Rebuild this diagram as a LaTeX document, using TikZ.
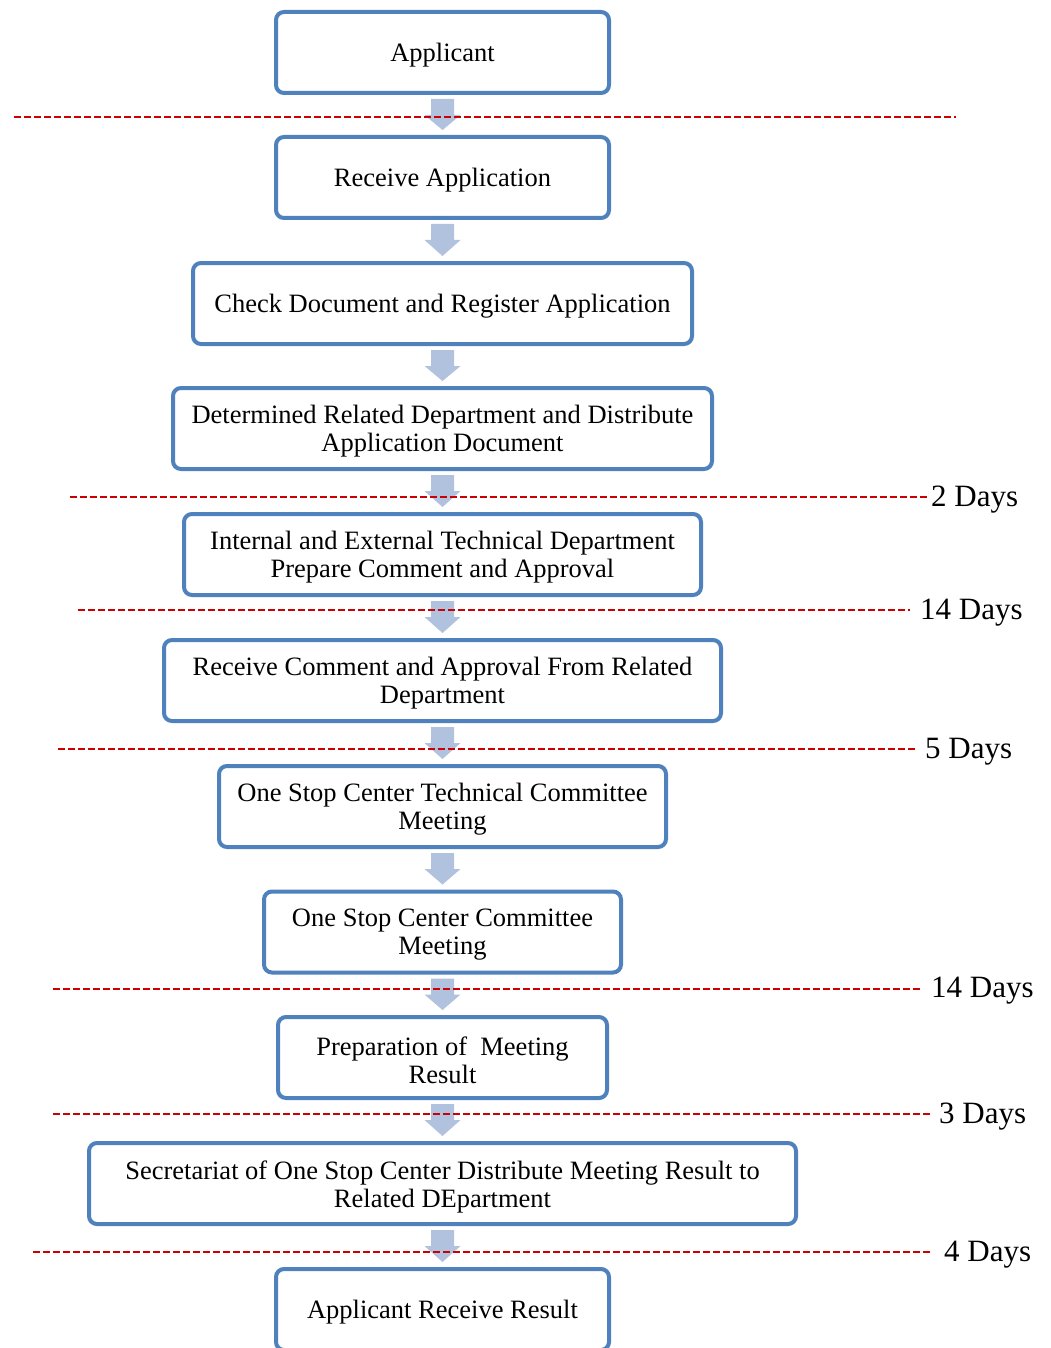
\documentclass[tikz,border=0pt]{standalone}
\usepackage{fontspec}
\setmainfont{Liberation Serif}
\usetikzlibrary{calc}
\definecolor{boxblue}{RGB}{79,129,189}
\definecolor{arrowfill}{RGB}{176,194,222}
\definecolor{dashred}{RGB}{204,0,0}
\tikzset{
  stepbox/.style={draw=boxblue, line width=4pt, rounded corners=8pt, fill=white,
    minimum height=81pt, inner sep=0pt},
  steptext/.style={align=center, inner sep=0pt,
    font=\fontsize{26.5}{28}\selectfont},
  daysline/.style={draw=dashred, line width=1.5pt, dash pattern=on 7pt off 3pt},
  dayslabel/.style={anchor=west, inner sep=0pt, font=\fontsize{31}{33}\selectfont}
}
% #1 name, #2 position, #3 width, #4 text
\newcommand\stepnode[4]{%
  \node[stepbox, minimum width=#3] (#1) at #2 {};
  \node[steptext] (#1t) at ($(#1.center)+(0,3)$) {#4};}
\newcommand\flowarr[2]{%
  \fill[arrowfill] ($(#1.south)+(-11.5,4)$) -- ($(#1.south)+(11.5,4)$) --
    ($(#1.south)+(11.5,20)$) -- ($(#1.south)+(18,20)$) -- ($(#2.north)+(0,-5)$) --
    ($(#1.south)+(-18,20)$) -- ($(#1.south)+(-11.5,20)$) -- cycle;}
\begin{document}
\begin{tikzpicture}[x=1pt,y=-1pt]
\clip (0,0) rectangle (1051,1348);
\fill[white] (0,0) rectangle (1051,1348);
\stepnode{n1}{(442.5,52.5)}{333pt}{Applicant}
\stepnode{n2}{(442.5,177.5)}{333pt}{Receive Application}
\stepnode{n3}{(442.5,303.5)}{499pt}{Check Document and Register Application}
\stepnode{n4}{(442.5,428.5)}{539pt}{Determined Related Department and Distribute\\Application Document}
\stepnode{n5}{(442.5,554.5)}{517pt}{Internal and External Technical Department\\Prepare Comment and Approval}
\stepnode{n6}{(442.5,680.5)}{557pt}{Receive Comment and Approval From Related\\Department}
\stepnode{n7}{(442.5,806.5)}{447pt}{One Stop Center Technical Committee\\Meeting}
\stepnode{n8}{(442.5,932)}{357pt}{One Stop Center Committee\\Meeting}
\stepnode{n9}{(442.5,1057.5)}{329pt}{Preparation of~ Meeting\\Result}
\stepnode{n10}{(442.5,1183.5)}{707pt}{Secretariat of One Stop Center Distribute Meeting Result to\\Related DEpartment}
\stepnode{n11}{(442.5,1309.5)}{333pt}{Applicant Receive Result}
\flowarr{n1}{n2}
\flowarr{n2}{n3}
\flowarr{n3}{n4}
\flowarr{n4}{n5}
\flowarr{n5}{n6}
\flowarr{n6}{n7}
\flowarr{n7}{n8}
\flowarr{n8}{n9}
\flowarr{n9}{n10}
\flowarr{n10}{n11}
\draw[daysline] (14,117) -- (956,117);
\draw[daysline] (70,497) -- (930,497);
\node[dayslabel] (d1) at (931,500) {2 Days};
\draw[daysline] (78,610) -- (910,610);
\node[dayslabel] (d2) at (920,613) {14 Days};
\draw[daysline] (58,749) -- (918,749);
\node[dayslabel] (d3) at (925,752) {5 Days};
\draw[daysline] (53,989) -- (922,989);
\node[dayslabel] (d4) at (931,991) {14 Days};
\draw[daysline] (53,1114) -- (930,1114);
\node[dayslabel] (d5) at (939,1117) {3 Days};
\draw[daysline] (33,1252) -- (930,1252);
\node[dayslabel] (d6) at (944,1255) {4 Days};
\end{tikzpicture}
\end{document}
